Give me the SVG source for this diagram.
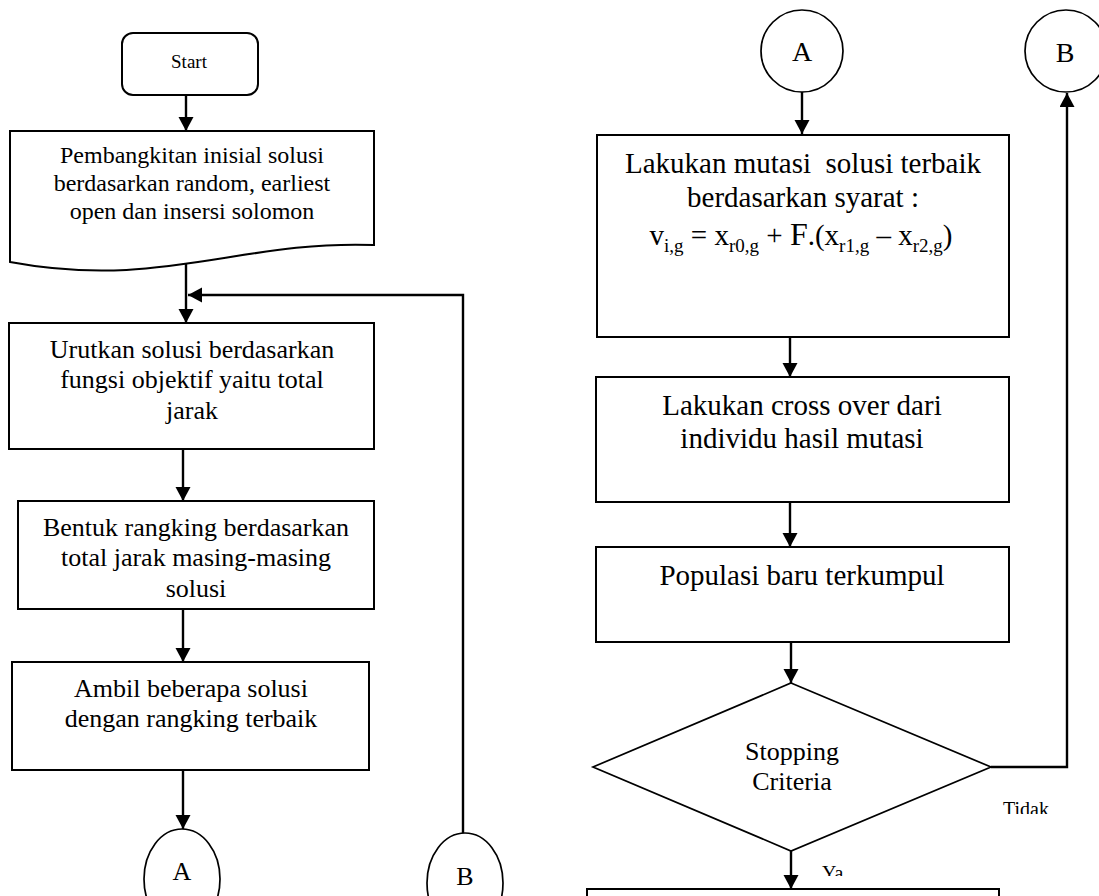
<svg xmlns="http://www.w3.org/2000/svg" width="1099" height="896" viewBox="0 0 1099 896">
<style>
  .box{fill:#fff;stroke:#000;stroke-width:2}
  .thin{fill:#fff;stroke:#000;stroke-width:1.7}
  .con{fill:none;stroke:#000;stroke-width:2.4}
  text{font-family:"Liberation Serif","Times New Roman",serif;fill:#000}
  .l{font-size:26px;text-anchor:middle}
  .r{font-size:29px;text-anchor:middle}
  .s{font-size:20px}
</style>
<defs>
  <marker id="ah" markerUnits="userSpaceOnUse" markerWidth="16" markerHeight="16" refX="14" refY="7.5" orient="auto">
    <path d="M0,0 L14,7.5 L0,15 z" fill="#000"/>
  </marker>
  <clipPath id="clipTidak"><rect x="990" y="790" width="80" height="24"/></clipPath>
  <clipPath id="clipYa"><rect x="815" y="855" width="40" height="21"/></clipPath>
</defs>
<rect width="1099" height="896" fill="#fff"/>

<g id="connectors">
  <line class="con" x1="186" y1="95" x2="186" y2="131" marker-end="url(#ah)"/>
  <line class="con" x1="186" y1="264" x2="186" y2="323" marker-end="url(#ah)"/>
  <polyline class="con" points="463,833 463,295 188,295" marker-end="url(#ah)"/>
  <line class="con" x1="183" y1="449" x2="183" y2="501" marker-end="url(#ah)"/>
  <line class="con" x1="183" y1="609" x2="183" y2="662" marker-end="url(#ah)"/>
  <line class="con" x1="183" y1="770" x2="183" y2="829" marker-end="url(#ah)"/>
  <line class="con" x1="802" y1="92" x2="802" y2="134" marker-end="url(#ah)"/>
  <line class="con" x1="790" y1="337" x2="790" y2="377" marker-end="url(#ah)"/>
  <line class="con" x1="790" y1="502" x2="790" y2="547" marker-end="url(#ah)"/>
  <line class="con" x1="791" y1="642" x2="791" y2="683" marker-end="url(#ah)"/>
  <line class="con" x1="791" y1="851" x2="791" y2="889" marker-end="url(#ah)"/>
  <polyline class="con" points="991,767 1067,767 1067,93" marker-end="url(#ah)"/>
</g>

<g id="start">
  <rect class="box" x="122" y="33" width="136" height="62" rx="11"/>
  <text x="189" y="68" font-size="19" text-anchor="middle">Start</text>
</g>

<g id="inisial">
  <path class="box" d="M10,131 H374 V245 C240,240 160,290 10,262 Z"/>
  <text x="192" y="163" font-size="24" text-anchor="middle">Pembangkitan inisial solusi</text>
  <text x="192" y="191" font-size="24" text-anchor="middle">berdasarkan random, earliest</text>
  <text x="192" y="219" font-size="24" text-anchor="middle">open dan insersi solomon</text>
</g>

<g id="urutkan">
  <rect class="box" x="9" y="323" width="365" height="126"/>
  <text class="l" x="192" y="358">Urutkan solusi berdasarkan</text>
  <text class="l" x="192" y="388">fungsi objektif yaitu total</text>
  <text class="l" x="192" y="419">jarak</text>
</g>

<g id="bentuk">
  <rect class="box" x="18" y="501" width="356" height="108"/>
  <text class="l" x="196" y="536">Bentuk rangking berdasarkan</text>
  <text class="l" x="196" y="566">total jarak masing-masing</text>
  <text class="l" x="196" y="597">solusi</text>
</g>

<g id="ambil">
  <rect class="box" x="12" y="662" width="357" height="108"/>
  <text class="l" x="191" y="697">Ambil beberapa solusi</text>
  <text class="l" x="191" y="727">dengan rangking terbaik</text>
</g>

<g id="connA-bottom">
  <ellipse class="thin" cx="182" cy="879" rx="38" ry="50"/>
  <text x="182" y="880" font-size="26" text-anchor="middle">A</text>
</g>

<g id="connB-bottom">
  <ellipse class="thin" cx="465" cy="883" rx="38" ry="50"/>
  <text x="465" y="885" font-size="26" text-anchor="middle">B</text>
</g>

<g id="connA-top">
  <circle class="thin" cx="802" cy="51" r="41"/>
  <text x="802" y="61" font-size="28" text-anchor="middle">A</text>
</g>

<g id="connB-top">
  <circle class="thin" cx="1066" cy="51" r="41"/>
  <text x="1065" y="62" font-size="28" text-anchor="middle">B</text>
</g>

<g id="mutasi">
  <rect class="box" x="597" y="135" width="412" height="202"/>
  <text class="r" x="803" y="173">Lakukan mutasi&#160; solusi terbaik</text>
  <text class="r" x="803" y="207">berdasarkan syarat :</text>
  <text class="r" x="801" y="245">v<tspan font-size="19" dy="7">i,g</tspan><tspan dy="-7"> = x</tspan><tspan font-size="19" dy="7">r0,g</tspan><tspan dy="-7"> + </tspan><tspan font-size="32">F</tspan>.(x<tspan font-size="19" dy="7">r1,g</tspan><tspan dy="-7"> – x</tspan><tspan font-size="19" dy="7">r2,g</tspan><tspan dy="-7">)</tspan></text>
</g>

<g id="crossover">
  <rect class="box" x="596" y="377" width="413" height="125"/>
  <text class="r" x="802" y="415">Lakukan cross over dari</text>
  <text class="r" x="802" y="448">individu hasil mutasi</text>
</g>

<g id="populasi">
  <rect class="box" x="596" y="547" width="413" height="95"/>
  <text class="r" x="802" y="585">Populasi baru terkumpul</text>
</g>

<g id="stopping">
  <polygon class="thin" points="791,683 991,767 791,851 593,767"/>
  <text class="l" x="792" y="760">Stopping</text>
  <text class="l" x="792" y="790">Criteria</text>
</g>

<g id="labels">
  <text class="s" x="1003" y="816" clip-path="url(#clipTidak)">Tidak</text>
  <text class="s" x="822" y="880" clip-path="url(#clipYa)">Ya</text>
</g>

<g id="final">
  <rect class="box" x="587" y="889" width="412" height="40"/>
</g>
</svg>
